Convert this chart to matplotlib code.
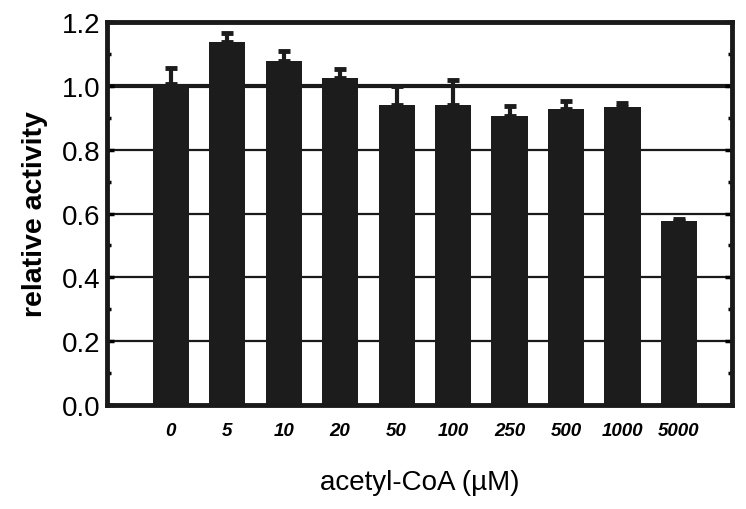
import matplotlib
matplotlib.use('Agg')
import matplotlib.pyplot as plt
from matplotlib.ticker import MultipleLocator, FormatStrFormatter

plt.rcParams['font.family'] = ['Liberation Sans', 'DejaVu Sans']

concentrations = ['0', '5', '10', '20', '50', '100', '250', '500', '1000', '5000']
activity = [1.005, 1.137, 1.078, 1.026, 0.941, 0.940, 0.904, 0.928, 0.933, 0.575]
error_up = [0.051, 0.028, 0.030, 0.027, 0.057, 0.079, 0.032, 0.023, 0.012, 0.008]

fig = plt.figure(figsize=(7.46, 5.10), dpi=100)
ax = fig.add_axes([0.1434, 0.2039, 0.8378, 0.751])

x = list(range(len(concentrations)))

# horizontal reference lines behind the bars
for yv in [0.2, 0.4, 0.6, 0.8]:
    ax.axhline(yv, color='#1a1a1a', lw=1.6, zorder=1)
ax.axhline(1.0, color='#1a1a1a', lw=3, zorder=1)

ax.bar(x, activity, width=0.64, color='#1c1c1c', zorder=2)
ax.errorbar(x, activity, yerr=[[0] * len(x), error_up], fmt='none',
            ecolor='#1c1c1c', elinewidth=3, capsize=4.5, capthick=3.5, zorder=3)

ax.set_xlim(-1.13, 9.94)
ax.set_ylim(0, 1.2)
ax.yaxis.set_major_locator(MultipleLocator(0.2))
ax.yaxis.set_minor_locator(MultipleLocator(0.1))
ax.yaxis.set_major_formatter(FormatStrFormatter('%.1f'))
ax.set_xticks(x)
ax.set_xticklabels(concentrations, style='italic', fontweight='bold', fontsize=13.5)
ax.tick_params(axis='x', length=0, pad=12)
ax.tick_params(axis='y', which='both', direction='in', right=True,
               width=2.5, labelsize=20, pad=5)
ax.tick_params(axis='y', which='major', length=5)
ax.tick_params(axis='y', which='minor', length=3)

for s in ax.spines.values():
    s.set_linewidth(3.5)
    s.set_color('#1a1a1a')

ax.set_ylabel('relative activity', fontsize=20.5, fontweight='bold', labelpad=10)
ax.set_xlabel('acetyl-CoA (\u00b5M)', fontsize=20, labelpad=22)

fig.savefig('out.png', dpi=100)
